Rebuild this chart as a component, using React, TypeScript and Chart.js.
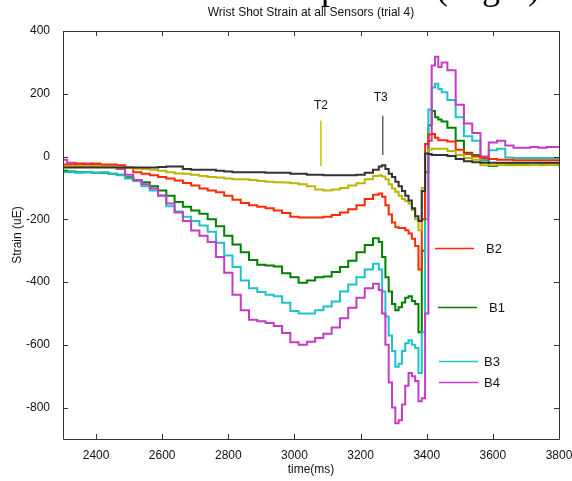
import React, { useEffect, useRef } from 'react';
import { Chart, registerables } from 'chart.js';

Chart.register(...registerables);

const FONT = '"Liberation Sans", Arial, sans-serif';

const times = [
  2300, 2325, 2350, 2375, 2400, 2425, 2450, 2475, 2500, 2525,
  2550, 2575, 2600, 2625, 2650, 2675, 2700, 2725, 2750, 2775,
  2800, 2825, 2850, 2875, 2900, 2925, 2950, 2975, 3000, 3025,
  3050, 3075, 3100, 3125, 3150, 3175, 3200, 3225, 3250,
  3260, 3270, 3280, 3290, 3300, 3310, 3320, 3330, 3340, 3350,
  3360, 3370, 3380, 3390, 3400, 3410, 3420, 3430, 3440, 3450,
  3475, 3500, 3525, 3550, 3575, 3600, 3625, 3650, 3675, 3700,
  3725, 3750, 3775, 3800,
];

const b4 = [
  -10, -20, -25, -22, -25, -28, -30, -40, -58, -75,
  -88, -102, -124, -150, -178, -205, -236, -252, -272, -320,
  -370, -440, -490, -520, -525, -530, -540, -562, -592, -600,
  -590, -578, -565, -545, -515, -482, -450, -420, -405,
  -425, -500, -600, -720, -800, -850, -840, -790, -730, -690,
  -700, -715, -780, -770, -500, 50, 290, 318, 285, 300,
  275, 165, 105, 75, 0, 45, 50, 35, 28, 28,
  30, 28, 30, 30,
];

const b3 = [
  -50, -50, -52, -50, -52, -50, -55, -60, -70, -78,
  -95, -108, -125, -158, -175, -192, -205, -220, -240, -275,
  -315, -352, -395, -420, -432, -440, -445, -466, -492, -500,
  -500, -490, -478, -462, -430, -408, -385, -360, -342,
  -360, -430, -510, -570, -620, -670, -660, -620, -595, -585,
  -600, -610, -690, -560, -200, 150, 220, 232, 215, 205,
  180, 125, 65, 50, -10, 20, 25, -3, -5, -5,
  -5, -5, -5, -5,
];

const b1 = [
  -45, -48, -50, -50, -52, -52, -55, -58, -66, -75,
  -82, -95, -108, -125, -145, -160, -172, -182, -200, -222,
  -252, -280, -305, -330, -345, -347, -350, -372, -385, -402,
  -395, -385, -382, -368, -352, -332, -305, -282, -260,
  -272, -320, -385, -430, -470, -490, -480, -465, -450, -445,
  -460, -470, -560, -300, -50, 100, 145, 125, 118, 112,
  92, 50, 12, 5, -12, -30, -25, -25, -25, -25,
  -25, -25, -25, -25,
];

const b2 = [
  -25, -25, -22, -25, -22, -25, -25, -28, -35, -50,
  -55, -60, -65, -70, -76, -84, -92, -102, -108, -114,
  -125, -138, -148, -155, -160, -165, -172, -180, -192, -194,
  -194, -194, -192, -186, -178, -168, -155, -135, -122,
  -118, -128, -155, -185, -210, -225, -228, -228, -235, -245,
  -262, -285, -360, -200, 40, 70, 72, 60, 52, 52,
  48, 22, 8, 0, -5, -8, -10, -10, -12, -12,
  -12, -12, -12, -12,
];

const t2 = [
  -30, -32, -30, -32, -30, -32, -32, -35, -35, -38,
  -40, -42, -45, -50, -54, -55, -58, -62, -65, -67,
  -70, -72, -72, -75, -78, -80, -82, -83, -85, -88,
  -95, -105, -108, -105, -100, -92, -85, -72, -62,
  -60, -64, -72, -88, -102, -112, -125, -135, -142, -150,
  -170, -200, -235, -100, 10, 22, 25, 25, 25, 25,
  18, 5, -5, -10, -28, -28, -25, -28, -28, -28,
  -25, -28, -25, -28,
];

const t3 = [
  -35, -35, -35, -35, -35, -35, -35, -35, -35, -35,
  -35, -35, -33, -32, -32, -40, -42, -42, -42, -45,
  -48, -50, -50, -50, -50, -52, -52, -52, -55, -55,
  -58, -58, -60, -60, -60, -60, -58, -52, -42,
  -32, -28, -40, -55, -65, -80, -95, -110, -125, -140,
  -165, -190, -205, -110, 10, 8, 5, 5, 5, 5,
  2, -8, -15, -18, -20, -20, -20, -20, -20, -20,
  -20, -20, -20, -20,
];

// marker lines for T2 / T3 (time, top value, bottom value)
const markerT2Time = 3080;
const markerT2Range = [115, -30];
const markerT3Time = 3267;
const markerT3Range = [130, 5];

const xTickValues = [2400, 2600, 2800, 3000, 3200, 3400, 3600, 3800];
const yTickValues = [400, 200, 0, -200, -400, -600, -800];

const COLORS = {
  b2: '#ff2a00',
  b1: '#008000',
  b3: '#1cc4c8',
  b4: '#c43cc4',
  t2: '#bdb500',
  t3: '#333333',
};

const legendItems = [
  { label: 'B2', color: COLORS.b2, x1: 435, x2: 474, y: 248, tx: 486 },
  { label: 'B1', color: COLORS.b1, x1: 438, x2: 477, y: 307, tx: 489 },
  { label: 'B3', color: COLORS.b3, x1: 439, x2: 478, y: 361, tx: 484 },
  { label: 'B4', color: COLORS.b4, x1: 439, x2: 478, y: 382, tx: 484 },
];

const overlay = {
  id: 'overlay',
  afterDraw(chart: any) {
    const { ctx, chartArea: a, scales } = chart;
    const xs = scales.x;
    const ys = scales.y;
    ctx.save();
    // header (clipped)
    ctx.fillStyle = '#000';
    ctx.font = '36px "Liberation Serif", "Times New Roman", serif';
    ctx.textAlign = 'right';
    ctx.textBaseline = 'alphabetic';
    ctx.fillText('Strain Comparison (Right)', 540, -1);

    // title
    ctx.font = `12px ${FONT}`;
    ctx.textAlign = 'center';
    ctx.textBaseline = 'middle';
    ctx.fillStyle = '#111';
    ctx.fillText('Wrist Shot Strain at all Sensors (trial 4)', (a.left + a.right) / 2, 13);

    // axis titles
    ctx.fillText('time(ms)', (a.left + a.right) / 2, 470);
    ctx.save();
    ctx.translate(18, (a.top + a.bottom) / 2);
    ctx.rotate(-Math.PI / 2);
    ctx.fillText('Strain (uE)', 0, 0);
    ctx.restore();

    // box
    ctx.strokeStyle = '#333';
    ctx.lineWidth = 1;
    ctx.beginPath();
    ctx.rect(Math.round(a.left) + 0.5, Math.round(a.top) + 0.5, Math.round(a.right - a.left), Math.round(a.bottom - a.top));
    ctx.stroke();
    // inward ticks
    ctx.beginPath();
    xTickValues.forEach((v) => {
      const px = Math.round(xs.getPixelForValue(v)) + 0.5;
      ctx.moveTo(px, a.bottom);
      ctx.lineTo(px, a.bottom - 5);
      ctx.moveTo(px, a.top);
      ctx.lineTo(px, a.top + 5);
    });
    yTickValues.forEach((v) => {
      const py = Math.round(ys.getPixelForValue(v)) + 0.5;
      ctx.moveTo(a.left, py);
      ctx.lineTo(a.left + 5, py);
      ctx.moveTo(a.right, py);
      ctx.lineTo(a.right - 5, py);
    });
    ctx.stroke();

    // T2 / T3 labels
    ctx.fillStyle = '#111';
    ctx.font = `12px ${FONT}`;
    ctx.textAlign = 'center';
    ctx.textBaseline = 'middle';
    ctx.fillText('T2', xs.getPixelForValue(markerT2Time), ys.getPixelForValue(markerT2Range[0]) - 15);
    ctx.fillText('T3', xs.getPixelForValue(markerT3Time) - 2, ys.getPixelForValue(markerT3Range[0]) - 18);

    // legend
    ctx.font = `13px ${FONT}`;
    ctx.textAlign = 'left';
    legendItems.forEach((it) => {
      ctx.strokeStyle = it.color;
      ctx.lineWidth = 1.5;
      ctx.beginPath();
      ctx.moveTo(it.x1, it.y + 0.5);
      ctx.lineTo(it.x2, it.y + 0.5);
      ctx.stroke();
      ctx.fillStyle = '#111';
      ctx.fillText(it.label, it.tx, it.y + 1);
    });
    ctx.restore();
  },
};

export default function App() {
  const ref = useRef<HTMLCanvasElement>(null);
  useEffect(() => {
    document.body.style.margin = '0';
    const canvas = ref.current!;
    const mk = (vals: number[]) => times.map((t, i) => ({ x: t, y: vals[i] }));
    const line = (label: string, vals: number[], color: string, width = 2) => ({
      label,
      data: mk(vals),
      borderColor: color,
      backgroundColor: color,
      borderWidth: width,
      pointRadius: 0,
      fill: false,
      tension: 0,
      stepped: 'middle',
    });
    const chart = new Chart(canvas, {
      type: 'line',
      data: {
        datasets: [
          line('T3', t3, COLORS.t3),
          line('T2', t2, COLORS.t2),
          line('B2', b2, COLORS.b2),
          line('B4', b4, COLORS.b4),
          line('B3', b3, COLORS.b3),
          line('B1', b1, COLORS.b1),
          {
            label: 'T2 mark',
            data: [
              { x: markerT2Time, y: markerT2Range[0] },
              { x: markerT2Time, y: markerT2Range[1] },
            ],
            borderColor: '#c8c000',
            borderWidth: 1.5,
            pointRadius: 0,
          },
          {
            label: 'T3 mark',
            data: [
              { x: markerT3Time, y: markerT3Range[0] },
              { x: markerT3Time, y: markerT3Range[1] },
            ],
            borderColor: '#666',
            borderWidth: 1.5,
            pointRadius: 0,
          },
        ] as any,
      },
      options: {
        animation: false,
        responsive: false,
        devicePixelRatio: 1,
        layout: { padding: { top: 31, right: 13, left: 0, bottom: 0 } },
        plugins: {
          legend: { display: false },
          tooltip: { enabled: false },
          title: { display: false },
        },
        scales: {
          x: {
            type: 'linear',
            min: 2300,
            max: 3800,
            grid: { display: false },
            border: { display: false },
            afterBuildTicks: (s: any) => {
              s.ticks = xTickValues.map((v) => ({ value: v }));
            },
            afterFit: (s: any) => {
              s.height = 42;
              s.paddingLeft = 0;
              s.paddingRight = 0;
            },
            ticks: {
              font: { family: FONT, size: 12 },
              color: '#111',
              padding: 1,
              maxRotation: 0,
              autoSkip: false,
              callback: (v: any) => String(v),
            },
          },
          y: {
            type: 'linear',
            min: -900,
            max: 400,
            grid: { display: false },
            border: { display: false },
            afterBuildTicks: (s: any) => {
              s.ticks = yTickValues.map((v) => ({ value: v }));
            },
            afterFit: (s: any) => {
              s.width = 63;
            },
            ticks: {
              font: { family: FONT, size: 12 },
              color: '#111',
              padding: 5,
              autoSkip: false,
              callback: (v: any) => String(v),
            },
          },
        },
      } as any,
      plugins: [overlay],
    });
    return () => chart.destroy();
  }, []);
  return (
    <div style={{ position: 'absolute', left: 0, top: 0, width: 572, height: 481, background: '#fff' }}>
      <canvas ref={ref} width={572} height={481} style={{ width: 572, height: 481, display: 'block' }} />
    </div>
  );
}
